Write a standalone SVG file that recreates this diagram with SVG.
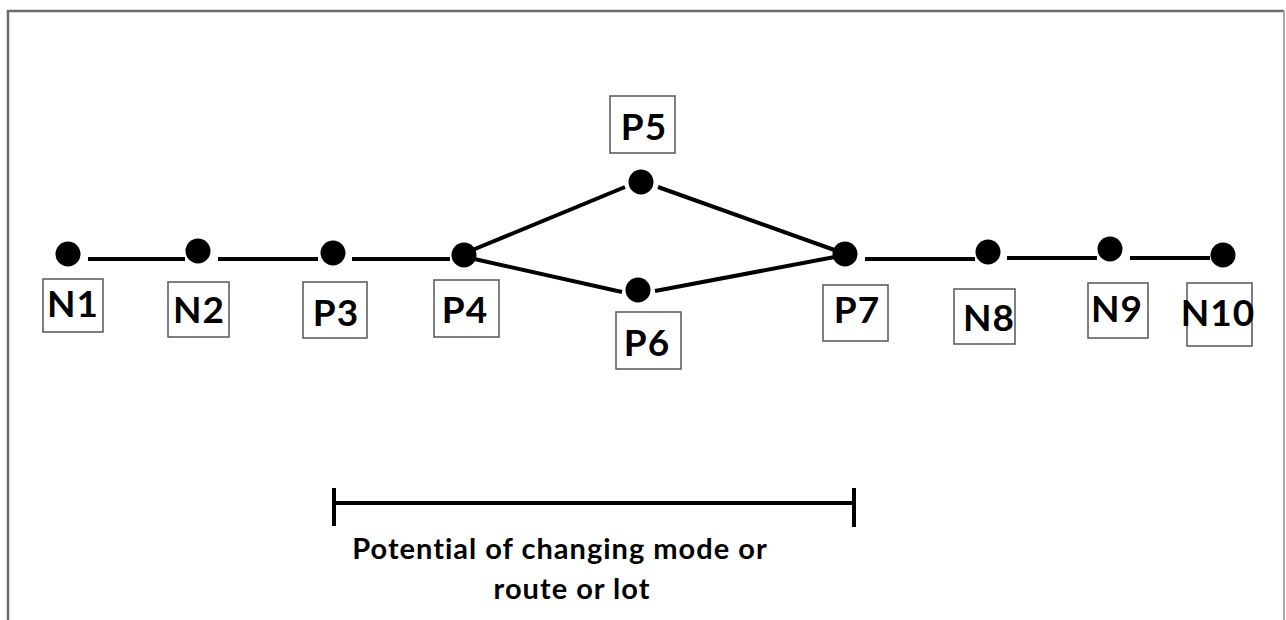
<svg xmlns="http://www.w3.org/2000/svg" width="1286" height="620" viewBox="0 0 1286 620">
  <style>
    .frame { fill: none; stroke: #6b6b6b; stroke-width: 2.5; }
    .frame-r { fill: none; stroke: #a8a8a8; stroke-width: 2; }
    .link { stroke: #000; stroke-width: 4; stroke-linecap: butt; fill: none; }
    .dot { fill: #000; }
    .box { fill: #fff; stroke: #555; stroke-width: 1.5; }
    .lbl { font-family: Lato, "Liberation Sans", sans-serif; font-weight: bold; font-size: 37px; letter-spacing: 1px; fill: #000; text-anchor: middle; }
    .note { font-family: Lato, "Liberation Sans", sans-serif; font-weight: bold; font-size: 29px; letter-spacing: 1px; fill: #000; text-anchor: middle; }
  </style>
  <rect width="1286" height="620" fill="#fff"/>

  <!-- outer frame, open at the bottom -->
  <path class="frame" d="M8,622 V11 H1284"/>
  <path class="frame-r" d="M1284,11 V622"/>

  <!-- connectors -->
  <g id="connectors">
    <line class="link" x1="88" y1="259" x2="185" y2="259"/>
    <line class="link" x1="218" y1="259" x2="318" y2="259"/>
    <line class="link" x1="352" y1="259" x2="450" y2="259"/>
    <line class="link" x1="470" y1="251" x2="625" y2="187"/>
    <line class="link" x1="658" y1="187" x2="840" y2="252"/>
    <line class="link" x1="470" y1="258" x2="622" y2="292"/>
    <line class="link" x1="655" y1="291" x2="840" y2="256"/>
    <line class="link" x1="865" y1="259" x2="975" y2="259"/>
    <line class="link" x1="1007" y1="258" x2="1097" y2="258"/>
    <line class="link" x1="1130" y1="258" x2="1210" y2="258"/>
  </g>

  <g id="N1">
    <circle class="dot" cx="68" cy="254" r="12.5"/>
    <rect class="box" x="43" y="279" width="60" height="53"/>
    <text class="lbl" x="73" y="317">N1</text>
  </g>
  <g id="N2">
    <circle class="dot" cx="198" cy="251" r="12.5"/>
    <rect class="box" x="168" y="282" width="61" height="55"/>
    <text class="lbl" x="199" y="323">N2</text>
  </g>
  <g id="P3">
    <circle class="dot" cx="333" cy="253" r="12.5"/>
    <rect class="box" x="303" y="282" width="64" height="56"/>
    <text class="lbl" x="336" y="326">P3</text>
  </g>
  <g id="P4">
    <circle class="dot" cx="464" cy="255" r="12.5"/>
    <rect class="box" x="434" y="280" width="65" height="57"/>
    <text class="lbl" x="465" y="323">P4</text>
  </g>
  <g id="P5">
    <circle class="dot" cx="641" cy="182" r="12.5"/>
    <rect class="box" x="610" y="96" width="65" height="57"/>
    <text class="lbl" x="644" y="140">P5</text>
  </g>
  <g id="P6">
    <circle class="dot" cx="638" cy="290" r="12.5"/>
    <rect class="box" x="616" y="312" width="65" height="57"/>
    <text class="lbl" x="647" y="356">P6</text>
  </g>
  <g id="P7">
    <circle class="dot" cx="845" cy="254" r="12.5"/>
    <rect class="box" x="823" y="285" width="65" height="56"/>
    <text class="lbl" x="857" y="323">P7</text>
  </g>
  <g id="N8">
    <circle class="dot" cx="988" cy="252" r="12.5"/>
    <rect class="box" x="954" y="289" width="61" height="55"/>
    <text class="lbl" x="989" y="331">N8</text>
  </g>
  <g id="N9">
    <circle class="dot" cx="1110" cy="249" r="12.5"/>
    <rect class="box" x="1088" y="283" width="60" height="55"/>
    <text class="lbl" x="1117" y="322">N9</text>
  </g>
  <g id="N10">
    <circle class="dot" cx="1223" cy="255" r="12.5"/>
    <rect class="box" x="1187" y="283" width="65" height="63"/>
    <text class="lbl" x="1218" y="326">N10</text>
  </g>

  <!-- span bar with caption -->
  <g id="span">
    <line class="link" x1="334" y1="503" x2="854" y2="503"/>
    <line class="link" x1="334" y1="488" x2="334" y2="526"/>
    <line class="link" x1="854" y1="488" x2="854" y2="527"/>
    <text class="note" x="560" y="559">Potential of changing mode or</text>
    <text class="note" x="572" y="599">route or lot</text>
  </g>
</svg>
